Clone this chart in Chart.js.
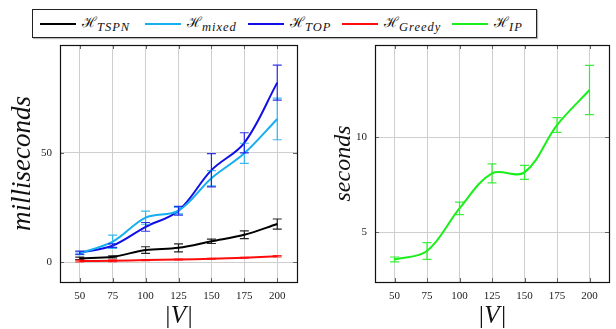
<!DOCTYPE html>
<html>
<head>
    <title>Runtime vs |V|</title>
    <script src="https://cdn.jsdelivr.net/npm/chart.js"></script>
    <style>
        body { margin: 0; background: #fff; width: 616px; height: 329px; position: relative; overflow: hidden; }
        .box { position: absolute; }
        #legend {
            position: absolute; left: 32px; top: 9px; width: 503px; height: 27px;
            border: 1px solid #222; box-shadow: 1px 1px 1px #bbb;
            font-family: 'DejaVu Serif', serif;
        }
        .item { position: absolute; top: 0; height: 27px; display: flex; align-items: center; }
        .item .ln { width: 36px; height: 2px; margin-right: 6px; }
        .item .nm { font-size: 14px; color: #111; }
        .item sub { font-family: 'Liberation Serif', serif; font-style: italic; font-size: 12.5px; letter-spacing: 1px; }
    </style>
</head>
<body>
    <div id="legend"></div>
    <div class="box" style="left:0;top:40px;width:310px;height:289px;">
        <canvas id="msChart"></canvas>
    </div>
    <div class="box" style="left:320px;top:40px;width:296px;height:289px;">
        <canvas id="secChart"></canvas>
    </div>
<script>
    const sizes = [50, 75, 100, 125, 150, 175, 200];

    const tspn = [1.7, 2.4, 5.5, 6.5, 9.5, 12.5, 17.4];
    const tspnErr = [0.6, 0.5, 1.5, 1.8, 1.0, 1.8, 2.3];
    const mixed = [4.0, 9.3, 20.3, 23.5, 38.3, 49.7, 65.4];
    const mixedErr = [0.6, 3.0, 3.0, 1.5, 3.5, 4.6, 9.5];
    const topH = [4.3, 7.5, 16.1, 23.5, 42.0, 54.5, 82.0];
    const topErr = [0.7, 0.8, 2.0, 2.0, 7.6, 4.6, 8.0];
    const greedy = [0.5, 0.6, 0.9, 1.2, 1.5, 2.0, 2.7];
    const greedyErr = [0.4, 0.4, 0.2, 0.2, 0.2, 0.2, 0.3];
    const ip = [3.55, 4.0, 6.25, 8.1, 8.15, 10.65, 12.5];
    const ipErr = [0.13, 0.44, 0.33, 0.5, 0.37, 0.39, 1.3];

    const msTicks = [0, 50];
    const secTicks = [5, 10];

    const legendItems = [
        { sub: 'TSPN', color: '#000000', left: 7 },
        { sub: 'mixed', color: '#17aef0', left: 112 },
        { sub: 'TOP', color: '#1010e6', left: 215 },
        { sub: 'Greedy', color: '#ff0d0d', left: 309 },
        { sub: 'IP', color: '#1aef1a', left: 419 }
    ];

    const legend = document.getElementById('legend');
    legendItems.forEach(it => {
        const el = document.createElement('div');
        el.className = 'item';
        el.style.left = it.left + 'px';
        el.innerHTML = '<span class="ln" style="background:' + it.color + '"></span>' +
            '<span class="nm">ℋ<sub>' + it.sub + '</sub></span>';
        legend.appendChild(el);
    });

    const tickFont = { family: "'Liberation Serif', serif", size: 11 };

    // frame, small tick marks and error bars
    const framePlugin = {
        id: 'frame',
        afterDatasetsDraw(chart) {
            const ctx = chart.ctx;
            const a = chart.chartArea;
            const xs = chart.scales.x, ys = chart.scales.y;
            ctx.save();
            chart.data.datasets.forEach(ds => {
                if (!ds.err) return;
                ctx.strokeStyle = ds.borderColor;
                ctx.globalAlpha = 0.85;
                ctx.lineWidth = 1.2;
                ds.data.forEach((p, i) => {
                    const x = xs.getPixelForValue(p.x);
                    const y1 = ys.getPixelForValue(p.y - ds.err[i]);
                    const y2 = ys.getPixelForValue(p.y + ds.err[i]);
                    ctx.beginPath();
                    ctx.moveTo(x, y1); ctx.lineTo(x, y2);
                    ctx.moveTo(x - 4.5, y1); ctx.lineTo(x + 4.5, y1);
                    ctx.moveTo(x - 4.5, y2); ctx.lineTo(x + 4.5, y2);
                    ctx.stroke();
                });
            });
            ctx.globalAlpha = 1;
            ctx.strokeStyle = '#666';
            ctx.lineWidth = 1;
            ctx.beginPath();
            xs.ticks.forEach(t => {
                const x = Math.round(xs.getPixelForValue(t.value)) + 0.5;
                ctx.moveTo(x, a.bottom); ctx.lineTo(x, a.bottom - 4);
                ctx.moveTo(x, a.top); ctx.lineTo(x, a.top + 4);
            });
            ys.ticks.forEach(t => {
                const y = Math.round(ys.getPixelForValue(t.value)) + 0.5;
                ctx.moveTo(a.left, y); ctx.lineTo(a.left + 4, y);
                ctx.moveTo(a.right, y); ctx.lineTo(a.right - 4, y);
            });
            ctx.stroke();
            ctx.strokeStyle = '#111';
            ctx.lineWidth = 1.2;
            ctx.strokeRect(Math.round(a.left) + 0.5, Math.round(a.top) + 0.5,
                Math.round(a.right - a.left), Math.round(a.bottom - a.top));
            ctx.restore();
        }
    };

    function makeChart(id, datasets, opts) {
        return new Chart(document.getElementById(id).getContext('2d'), {
            type: 'line',
            data: {
                datasets: datasets.map(ds => ({
                    data: ds.values.map((v, i) => ({ x: sizes[i], y: v })),
                    err: ds.err,
                    borderColor: ds.color,
                    borderWidth: 2,
                    pointRadius: 0,
                    tension: 0.35,
                    fill: false
                }))
            },
            options: {
                responsive: true,
                maintainAspectRatio: false,
                animation: false,
                layout: { padding: { top: 5, right: opts.padRight, bottom: 0, left: 0 } },
                plugins: { legend: { display: false }, tooltip: { enabled: false } },
                scales: {
                    x: {
                        type: 'linear', min: 35, max: 215,
                        afterBuildTicks: ax => { ax.ticks = sizes.map(v => ({ value: v })); },
                        afterFit: ax => { ax.height = 47; ax.paddingLeft = 0; ax.paddingRight = 0; },
                        grid: { color: '#cfcfcf', drawTicks: false },
                        border: { display: false },
                        ticks: { font: tickFont, color: '#222', padding: 8, maxRotation: 0 },
                        title: {
                            display: true, text: '|V|', color: '#111',
                            font: { family: "'Liberation Serif', serif", size: 25, style: 'italic', lineHeight: 1.0 },
                            padding: 0
                        }
                    },
                    y: {
                        min: opts.yMin, max: opts.yMax,
                        afterBuildTicks: ax => { ax.ticks = opts.yTicks.map(v => ({ value: v })); },
                        afterFit: ax => { ax.width = opts.yWidth; ax.paddingTop = 0; ax.paddingBottom = 0; },
                        grid: { color: '#cfcfcf', drawTicks: false },
                        border: { display: false },
                        ticks: { font: tickFont, color: '#222', padding: 8 },
                        title: {
                            display: true, text: opts.yTitle, color: '#111',
                            font: { family: "'Liberation Serif', serif", size: opts.titleSize, style: 'italic', lineHeight: 1.0 },
                            padding: { top: opts.titlePad, bottom: 0 }
                        }
                    }
                }
            },
            plugins: [framePlugin]
        });
    }

    makeChart('msChart', [
        { values: tspn, err: tspnErr, color: '#000000' },
        { values: mixed, err: mixedErr, color: '#17aef0' },
        { values: topH, err: topErr, color: '#1010e6' },
        { values: greedy, err: greedyErr, color: '#ff0d0d' }
    ], { yMin: -9.1, yMax: 99.2, yTicks: msTicks, yWidth: 60, padRight: 13, yTitle: 'milliseconds', titleSize: 27, titlePad: 9 });

    makeChart('secChart', [
        { values: ip, err: ipErr, color: '#1aef1a' }
    ], { yMin: 2.36, yMax: 14.88, yTicks: secTicks, yWidth: 55, padRight: 7, yTitle: 'seconds', titleSize: 24, titlePad: 12 });
</script>
</body>
</html>
